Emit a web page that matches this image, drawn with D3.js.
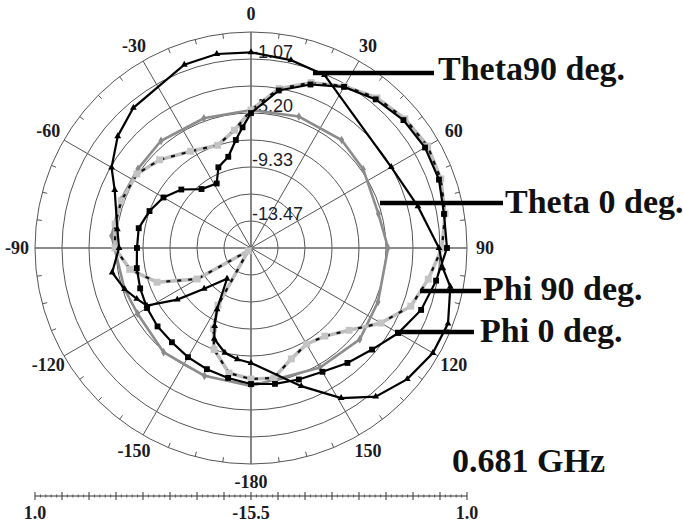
<!DOCTYPE html>
<html>
<head>
<meta charset="utf-8">
<script src="https://cdn.jsdelivr.net/npm/d3@7"></script>
<style>
  html, body { margin: 0; padding: 0; background: #fff; }
  svg { display: block; }
</style>
</head>
<body>
<svg id="chart" width="683" height="524"></svg>
<script>
// Far-field pattern cuts at 0.681 GHz, gain in dB versus angle (deg, clockwise from top)

const theta90Angles = [-173, -166, -158, -155, -151, -142, -131, -125, -119, -114, -108, -100, -90, -82, -67, -60, -50, -40, -20, -10, 0, 12, 23, 60, 76, 90, 96, 101, 111, 120, 130, 140, 149, 160, 180];
const theta90Values = [-6.94, -7.25, -8.01, -8.93, -10.15, -12.52, -10.76, -8.63, -6.41, -5.95, -5.34, -4.73, -5.42, -5.19, -4.19, -3.20, -2.21, -1.52, -0.60, -0.45, -0.55, -0.83, -1.14, -3.13, -2.36, -1.14, -0.76, 0.01, 0.62, 0.54, 0.08, -0.68, -2.13, -4.27, -6.72];

const theta0Angles = [-160, -140, -120, -108, -85, -70, -55, -40, -20, 0, 20, 40, 55, 75, 90, 113, 130, 150, 180];
const theta0Values = [-5.11, -5.11, -5.49, -5.34, -4.81, -4.88, -4.96, -4.81, -4.96, -4.96, -4.81, -4.73, -5.03, -5.42, -5.03, -4.96, -4.65, -4.96, -4.96];

const phi90Angles = [-170, -160, -155, -150, -135, -120, -110, -100, -90, -80, -70, -57, -46, -32, -18, -8, 0, 10, 20, 30, 40, 50, 60, 70, 80, 90, 100, 110, 120, 130, 140, 150, 160, 170, 180];
const phi90Values = [-5.80, -7.25, -8.70, -10.46, -15.19, -10.76, -7.86, -6.10, -5.11, -4.96, -4.96, -5.11, -5.80, -6.79, -7.25, -6.41, -4.96, -3.13, -2.06, -1.22, -0.53, -0.15, 0.08, -0.07, -0.45, -0.91, -1.75, -2.51, -4.04, -5.72, -6.72, -7.02, -6.49, -5.42, -5.49];

const phi0Angles = [-170, -160, -150, -140, -130, -120, -110, -100, -90, -80, -70, -60, -50, -40, -28, -22, -14, -8, -4, 0, 10, 20, 30, 40, 50, 60, 70, 80, 90, 100, 110, 120, 130, 140, 150, 160, 170, 180];
const phi0Values = [-5.42, -5.65, -5.87, -6.10, -6.18, -6.33, -6.49, -6.64, -6.79, -6.79, -7.25, -7.78, -8.55, -9.62, -9.92, -8.85, -8.32, -7.17, -6.26, -5.19, -3.28, -2.21, -1.29, -0.68, -0.30, -0.15, -0.22, -0.53, -0.53, -1.14, -1.67, -2.51, -3.43, -4.04, -4.58, -4.81, -4.96, -5.11];

const angleTicks = [0, 30, 60, 90, 120, 150, 180, -150, -120, -90, -60, -30];
const angleTickLabels = ["0", "30", "60", "90", "120", "150", "-180", "-150", "-120", "-90", "-60", "-30"];
const ringLabels = ["-1.07", "-5.20", "-9.33", "-13.47"];
const scaleBarLabels = ["1.0", "-15.5", "1.0"];
const seriesNames = ["Theta90 deg.", "Theta 0 deg.", "Phi 90 deg.", "Phi 0 deg."];
const frequencyLabel = "0.681 GHz";

const dbMin = -15.5, dbMax = 1.0, ringCount = 8;

// ---- layout ----
const cx = 251, cy = 248, R = 216;
const svg = d3.select("#chart");
const rad = d => d * Math.PI / 180;
const rScale = d3.scaleLinear().domain([dbMin, dbMax]).range([0, R]);

const plot = svg.append("g").attr("transform", `translate(${cx},${cy})`);
const serif = "'Liberation Serif','Times New Roman',serif";
const sans = "'Liberation Sans',Arial,sans-serif";

// concentric rings
const ringValues = d3.range(1, ringCount + 1).map(i => dbMin + i * (dbMax - dbMin) / ringCount);
plot.append("g").selectAll("circle").data(ringValues).join("circle")
  .attr("r", d => rScale(d))
  .attr("fill", "none")
  .attr("stroke", "#555")
  .attr("stroke-width", 1);

// spokes every 30 degrees
plot.append("g").selectAll("line").data(d3.range(0, 360, 30)).join("line")
  .attr("x1", 0).attr("y1", 0)
  .attr("x2", d => d3.pointRadial(rad(d), R)[0])
  .attr("y2", d => d3.pointRadial(rad(d), R)[1])
  .attr("stroke", d => d % 90 === 0 ? "#666" : "#555")
  .attr("stroke-width", d => d % 90 === 0 ? 1.6 : 1);

// small ticks on the outer ring
const minorTicks = d3.range(0, 360, 7.5).filter(d => d % 30 !== 0);
plot.append("g").selectAll("line").data(minorTicks).join("line")
  .attr("x1", d => d3.pointRadial(rad(d), R - 5)[0])
  .attr("y1", d => d3.pointRadial(rad(d), R - 5)[1])
  .attr("x2", d => d3.pointRadial(rad(d), R)[0])
  .attr("y2", d => d3.pointRadial(rad(d), R)[1])
  .attr("stroke", "#555").attr("stroke-width", 1);

// angle labels
plot.append("g").selectAll("text").data(angleTicks).join("text")
  .attr("x", d => d3.pointRadial(rad(d), 234)[0])
  .attr("y", d => d3.pointRadial(rad(d), 234)[1])
  .attr("dy", "0.35em")
  .attr("text-anchor", "middle")
  .attr("font-family", serif)
  .attr("font-weight", "bold")
  .attr("font-size", 18)
  .attr("fill", "#1a1a24")
  .text((d, i) => angleTickLabels[i]);

// ring value labels along the 0-degree spoke
plot.append("g").selectAll("text").data(ringLabels).join("text")
  .attr("x", 1)
  .attr("y", d => -rScale(+d) - 1)
  .attr("font-family", sans)
  .attr("font-size", 18)
  .attr("fill", "#1c1c2c")
  .text(d => d);

// ---- pattern curves ----
function zipSeries(angles, values) {
  return angles.map((a, i) => ({ a, v: values[i] }));
}
const lineGen = d3.lineRadial()
  .angle(d => rad(d.a))
  .radius(d => rScale(d.v))
  .curve(d3.curveLinearClosed);
const pos = d => d3.pointRadial(rad(d.a), rScale(d.v));

const theta0 = zipSeries(theta0Angles, theta0Values);
const phi90 = zipSeries(phi90Angles, phi90Values);
const phi0 = zipSeries(phi0Angles, phi0Values);
const theta90 = zipSeries(theta90Angles, theta90Values);

// Theta 0: gray solid with small gray diamonds
plot.append("path").datum(theta0).attr("d", lineGen)
  .attr("fill", "none").attr("stroke", "#8c8c8c").attr("stroke-width", 2.6);
plot.append("g").selectAll("path").data(theta0).join("path")
  .attr("transform", d => `translate(${pos(d)})`)
  .attr("d", d3.symbol(d3.symbolDiamond, 22))
  .attr("fill", "#8a8a8a");

// Phi 90: light gray band with black dashes and light gray squares
plot.append("path").datum(phi90).attr("d", lineGen)
  .attr("fill", "none").attr("stroke", "#bdbdbd").attr("stroke-width", 3.5);
plot.append("path").datum(phi90).attr("d", lineGen)
  .attr("fill", "none").attr("stroke", "#111").attr("stroke-width", 2.2)
  .attr("stroke-dasharray", "4,7");
plot.append("g").selectAll("path").data(phi90).join("path")
  .attr("transform", d => `translate(${pos(d)})`)
  .attr("d", d3.symbol(d3.symbolSquare, 48))
  .attr("fill", "#c4c4c4");

// Phi 0: black solid with black squares
plot.append("path").datum(phi0).attr("d", lineGen)
  .attr("fill", "none").attr("stroke", "#000").attr("stroke-width", 2.2);
plot.append("g").selectAll("path").data(phi0).join("path")
  .attr("transform", d => `translate(${pos(d)})`)
  .attr("d", d3.symbol(d3.symbolSquare, 34))
  .attr("fill", "#000");

// Theta 90: black solid with small triangles
plot.append("path").datum(theta90).attr("d", lineGen)
  .attr("fill", "none").attr("stroke", "#000").attr("stroke-width", 2.2);
plot.append("g").selectAll("path").data(theta90).join("path")
  .attr("transform", d => `translate(${pos(d)})`)
  .attr("d", d3.symbol(d3.symbolTriangle, 20))
  .attr("fill", "#000");

// ---- legend call-outs ----
const calloutLayout = [
  { x1: 313, x2: 434, y: 73, tx: 438, ty: 80 },
  { x1: 380, x2: 503, y: 203, tx: 505, ty: 213 },
  { x1: 420, x2: 481, y: 291, tx: 483, ty: 300 },
  { x1: 395, x2: 474, y: 332, tx: 480, ty: 342 }
];
const callouts = svg.append("g").selectAll("g").data(seriesNames).join("g");
callouts.append("line")
  .attr("x1", (d, i) => calloutLayout[i].x1)
  .attr("x2", (d, i) => calloutLayout[i].x2)
  .attr("y1", (d, i) => calloutLayout[i].y)
  .attr("y2", (d, i) => calloutLayout[i].y)
  .attr("stroke", "#000").attr("stroke-width", 4.5);
callouts.append("text")
  .attr("x", (d, i) => calloutLayout[i].tx)
  .attr("y", (d, i) => calloutLayout[i].ty)
  .attr("font-family", serif)
  .attr("font-weight", "bold")
  .attr("font-size", 34)
  .attr("fill", "#111")
  .text(d => d);

svg.append("text")
  .attr("x", 452).attr("y", 472)
  .attr("font-family", serif)
  .attr("font-weight", "bold")
  .attr("font-size", 34)
  .attr("fill", "#111")
  .text(frequencyLabel);

// ---- diameter scale bar ----
const barY = 496;
const barScale = d3.scaleLinear().domain([-(dbMax - dbMin), dbMax - dbMin]).range([cx - R, cx + R]);
const step = (dbMax - dbMin) / ringCount;
const bar = svg.append("g");
bar.append("line")
  .attr("x1", barScale.range()[0]).attr("x2", barScale.range()[1])
  .attr("y1", barY).attr("y2", barY)
  .attr("stroke", "#333").attr("stroke-width", 1);
const majorVals = d3.range(-ringCount, ringCount + 1).map(i => i * step);
const minorVals = d3.range(-ringCount * 5, ringCount * 5 + 1).filter(i => i % 5 !== 0).map(i => i * step / 5);
bar.append("g").selectAll("line").data(majorVals).join("line")
  .attr("x1", d => barScale(d)).attr("x2", d => barScale(d))
  .attr("y1", barY - 4).attr("y2", barY + 4)
  .attr("stroke", "#333").attr("stroke-width", 1);
bar.append("g").selectAll("line").data(minorVals).join("line")
  .attr("x1", d => barScale(d)).attr("x2", d => barScale(d))
  .attr("y1", barY - 1.5).attr("y2", barY + 1.5)
  .attr("stroke", "#555").attr("stroke-width", 1);
bar.append("g").selectAll("text").data([-(dbMax - dbMin), 0, dbMax - dbMin]).join("text")
  .attr("x", d => barScale(d))
  .attr("y", 519)
  .attr("text-anchor", "middle")
  .attr("font-family", serif)
  .attr("font-weight", "bold")
  .attr("font-size", 18)
  .attr("fill", "#1a1a24")
  .text((d, i) => scaleBarLabels[i]);
</script>
</body>
</html>
